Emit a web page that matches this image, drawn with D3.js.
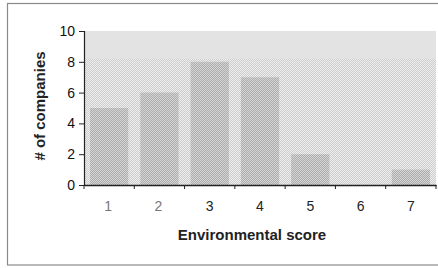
<!DOCTYPE html>
<html>
<head>
<meta charset="utf-8">
<script src="https://cdn.jsdelivr.net/npm/d3@7"></script>
<style>
  body { margin: 0; background: #fff; }
  svg { display: block; font-family: Arial, "Liberation Sans", sans-serif; }
</style>
</head>
<body>
<div id="wrapper"></div>
<script>
// data
const scores = ["1", "2", "3", "4", "5", "6", "7"]
const companies = [5, 6, 8, 7, 2, 0, 1]
const yTicks = [0, 2, 4, 6, 8, 10]

const dimensions = {
  width: 438,
  height: 268,
  margin: { top: 31, right: 2, bottom: 83, left: 84 }
}
dimensions.boundedWidth = dimensions.width - dimensions.margin.left - dimensions.margin.right
dimensions.boundedHeight = dimensions.height - dimensions.margin.top - dimensions.margin.bottom

const wrapper = d3.select("#wrapper")
  .append("svg")
  .attr("width", dimensions.width)
  .attr("height", dimensions.height)

// dotted fills like the scanned print
const defs = wrapper.append("defs")
const dots = (id, a, b) => {
  const p = defs.append("pattern")
    .attr("id", id)
    .attr("width", 2).attr("height", 2)
    .attr("patternUnits", "userSpaceOnUse")
  p.append("rect").attr("width", 2).attr("height", 2).attr("fill", a)
  p.append("rect").attr("width", 1).attr("height", 1).attr("fill", b)
  p.append("rect").attr("x", 1).attr("y", 1).attr("width", 1).attr("height", 1).attr("fill", b)
}
dots("bgDots", "#eeeeee", "#cdcdcd")
dots("barDots", "#d6d6d6", "#ababab")

// outer frame
wrapper.append("rect")
  .attr("x", 7.5).attr("y", 3.5)
  .attr("width", 440).attr("height", 261.5)
  .attr("fill", "none")
  .attr("stroke", "#8a8a8a")
  .attr("stroke-width", 1.2)

const bounds = wrapper.append("g")
  .attr("transform", `translate(${dimensions.margin.left},${dimensions.margin.top})`)

const xScale = d3.scaleBand()
  .domain(scores)
  .range([0, dimensions.boundedWidth])
  .paddingInner(0.24)
  .paddingOuter(0.12)

const yScale = d3.scaleLinear()
  .domain([0, 10])
  .range([dimensions.boundedHeight, 0])

// plot area
bounds.append("rect")
  .attr("width", dimensions.boundedWidth)
  .attr("height", dimensions.boundedHeight)
  .attr("fill", "url(#bgDots)")

bounds.append("rect")
  .attr("width", dimensions.boundedWidth)
  .attr("height", yScale(8.2))
  .attr("fill", "#e3e3e3")

// bars
bounds.selectAll(".bar")
  .data(companies)
  .join("rect")
  .attr("class", "bar")
  .attr("x", (d, i) => xScale(scores[i]))
  .attr("y", d => yScale(d))
  .attr("width", xScale.bandwidth())
  .attr("height", d => dimensions.boundedHeight - yScale(d))
  .attr("fill", "url(#barDots)")

// axes
const yAxis = bounds.append("g")
  .call(d3.axisLeft(yScale).tickValues(yTicks).tickSize(5).tickPadding(4))
yAxis.select(".domain").attr("stroke", "#222").attr("stroke-width", 1.2)
yAxis.selectAll(".tick line").attr("stroke", "#222")
yAxis.selectAll(".tick text").attr("font-size", "14px").attr("fill", "#111")

const step = xScale.step()
const xAxis = bounds.append("g")
  .attr("transform", `translate(0,${dimensions.boundedHeight})`)
  .call(d3.axisBottom(xScale).tickSize(0).tickPadding(16))
xAxis.select(".domain").attr("stroke", "#222").attr("stroke-width", 1.6)
xAxis.selectAll(".tick text").attr("font-size", "14px")
  .attr("fill", (d, i) => i < 2 ? "#777" : "#222")
  .attr("dx", (d, i) => i < 2 ? "-1px" : "0")

// category boundary ticks
xAxis.selectAll(".sep")
  .data(d3.range(scores.length + 1))
  .join("line")
  .attr("class", "sep")
  .attr("x1", i => i * step)
  .attr("x2", i => i * step)
  .attr("y1", 0)
  .attr("y2", 4)
  .attr("stroke", "#222")

// titles
wrapper.append("text")
  .attr("x", dimensions.margin.left + dimensions.boundedWidth / 2 - 8)
  .attr("y", 240)
  .attr("text-anchor", "middle")
  .attr("font-size", "15px")
  .attr("font-weight", "bold")
  .attr("fill", "#222")
  .text("Environmental score")

wrapper.append("text")
  .attr("transform", `translate(45,${dimensions.margin.top + dimensions.boundedHeight / 2 - 2}) rotate(-90)`)
  .attr("text-anchor", "middle")
  .attr("font-size", "15px")
  .attr("font-weight", "bold")
  .attr("fill", "#222")
  .text("# of companies")
</script>
</body>
</html>
